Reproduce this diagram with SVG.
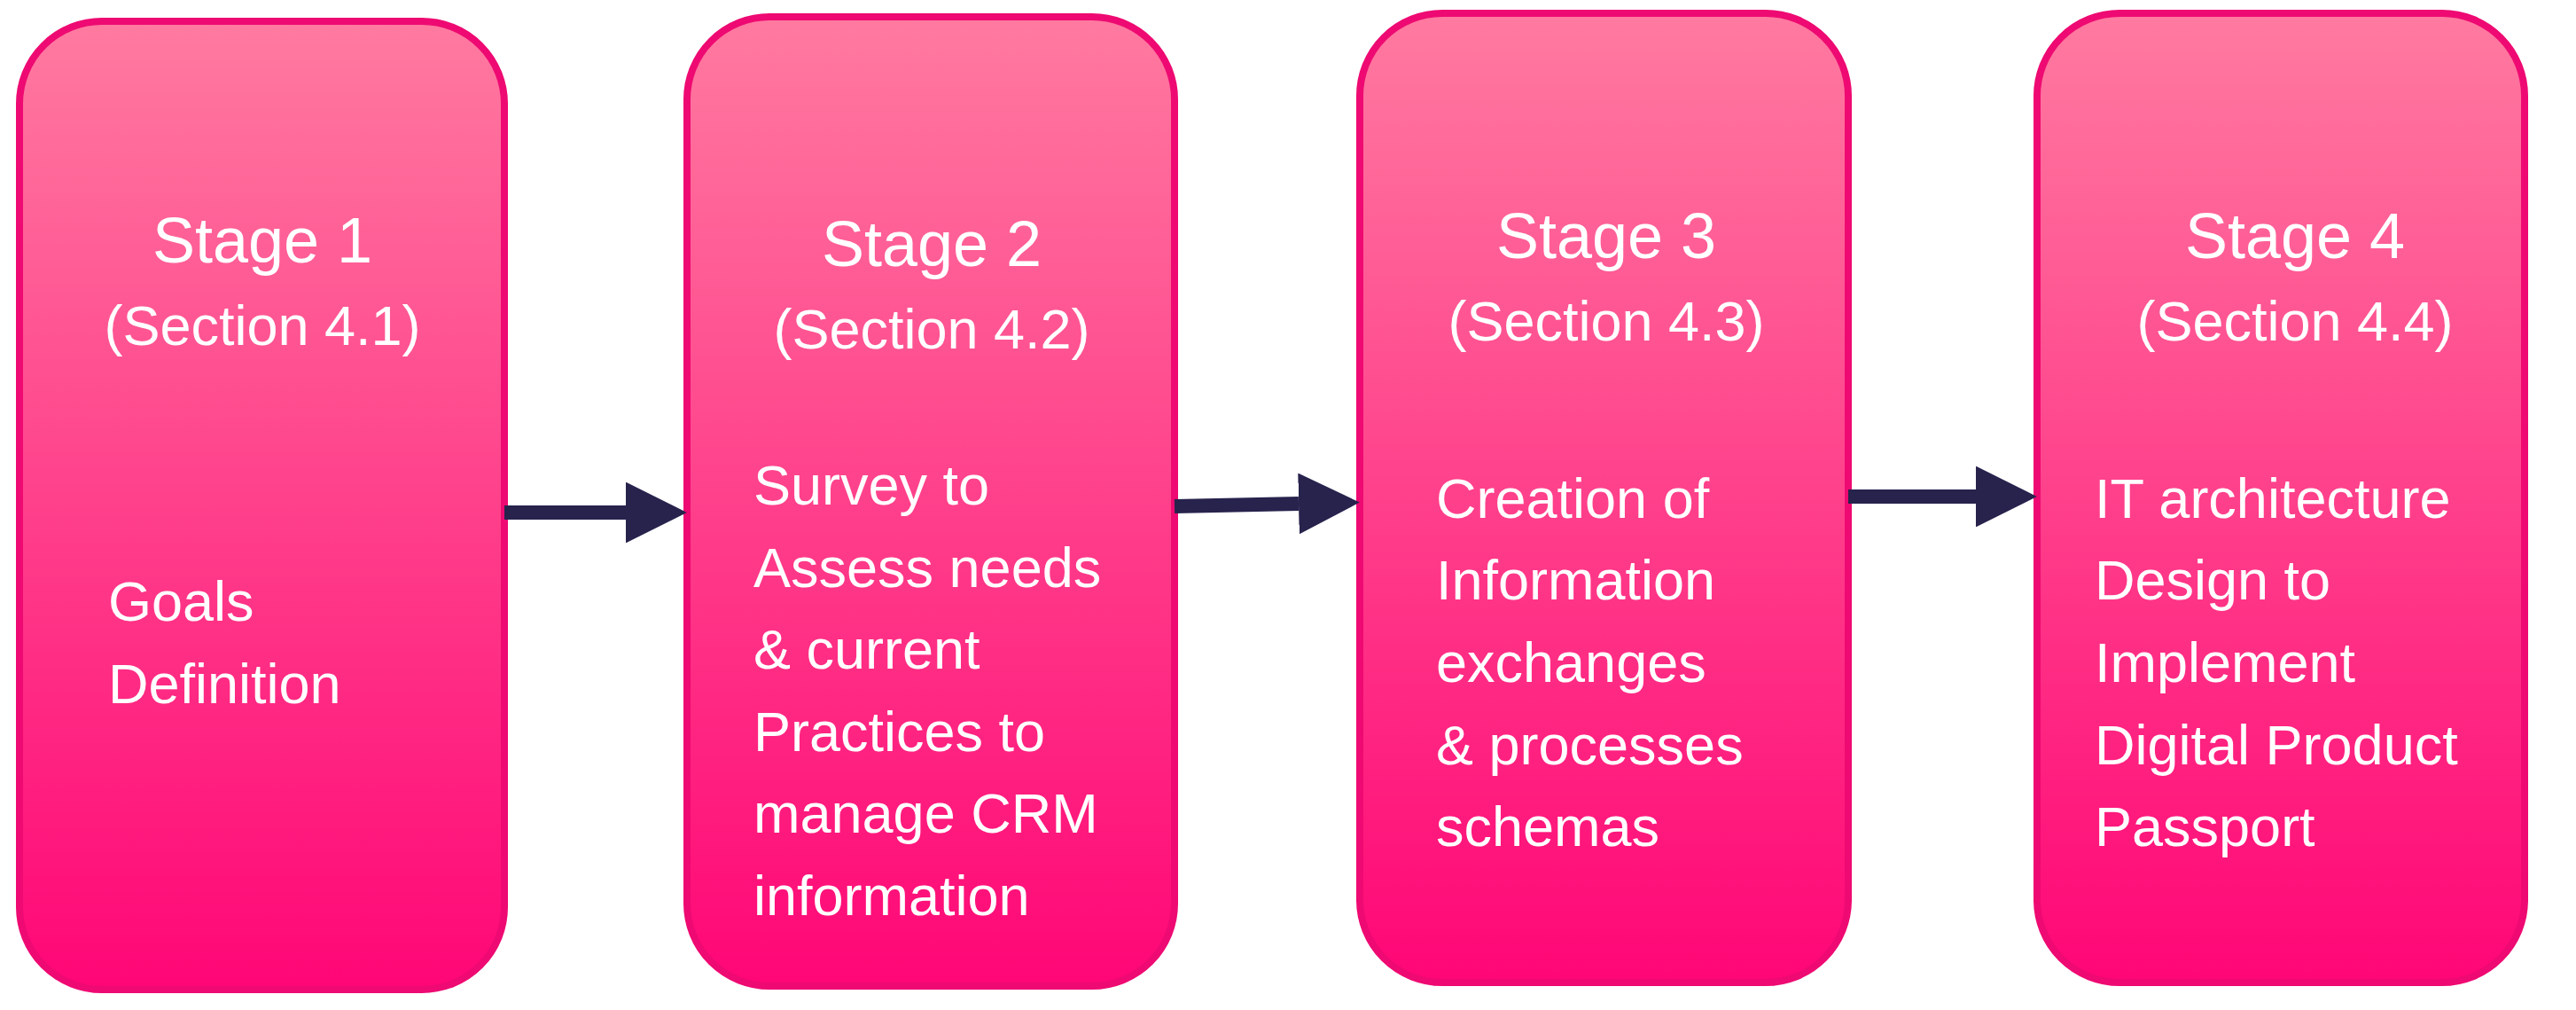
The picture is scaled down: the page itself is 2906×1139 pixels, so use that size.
<svg xmlns="http://www.w3.org/2000/svg" width="2906" height="1139" viewBox="0 0 2906 1139">
<style>
.box{fill:url(#g);stroke:#ee0a72;stroke-width:8}
text{font-family:"Liberation Sans",Arial,sans-serif;fill:#fff;font-size:63px}
.t{font-size:72px;text-anchor:middle}
.s{font-size:63px;text-anchor:middle}
.c{stroke:#27234d;stroke-width:16;fill:none}
</style>
<defs>
<linearGradient id="g" x1="0" y1="0" x2="0" y2="1"><stop offset="0" stop-color="#ff7aa0"/><stop offset="1" stop-color="#ff0676"/></linearGradient>
<marker id="a" viewBox="0 0 10 10" refX="0" refY="5" markerWidth="4.3" markerHeight="4.3" markerUnits="strokeWidth" orient="auto"><path d="M0,0 L10,5 L0,10 z" fill="#27234d"/></marker>
</defs>
<g id="n1"><rect class="box" x="22" y="24" width="547" height="1092" rx="93"/>
<text class="t" x="296" y="296">Stage 1</text><text class="s" x="296" y="389">(Section 4.1)</text>
<text x="122" y="700">Goals</text><text x="122" y="793">Definition</text></g>
<g id="n2"><rect class="box" x="775" y="19" width="550" height="1093" rx="93"/>
<text class="t" x="1051" y="300">Stage 2</text><text class="s" x="1051" y="393">(Section 4.2)</text>
<text x="850" y="569">Survey to</text><text x="850" y="662">Assess needs</text><text x="850" y="754">&amp; current</text><text x="850" y="847">Practices to</text><text x="850" y="939">manage CRM</text><text x="850" y="1032">information</text></g>
<g id="n3"><rect class="box" x="1534" y="15" width="551" height="1093" rx="93"/>
<text class="t" x="1812" y="291">Stage 3</text><text class="s" x="1812" y="384">(Section 4.3)</text>
<text x="1620" y="584">Creation of</text><text x="1620" y="676">Information</text><text x="1620" y="769">exchanges</text><text x="1620" y="862">&amp; processes</text><text x="1620" y="954">schemas</text></g>
<g id="n4"><rect class="box" x="2298" y="15" width="550" height="1093" rx="93"/>
<text class="t" x="2589" y="291">Stage 4</text><text class="s" x="2589" y="384">(Section 4.4)</text>
<text x="2363" y="584">IT architecture</text><text x="2363" y="676">Design to</text><text x="2363" y="769">Implement</text><text x="2363" y="862">Digital Product</text><text x="2363" y="954">Passport</text></g>
<g id="connectors">
<path class="c" d="M569,578 L706,578" marker-end="url(#a)"/>
<path class="c" d="M1325,571 L1465,568" marker-end="url(#a)"/>
<path class="c" d="M2085,560 L2229,560" marker-end="url(#a)"/>
</g>
</svg>
